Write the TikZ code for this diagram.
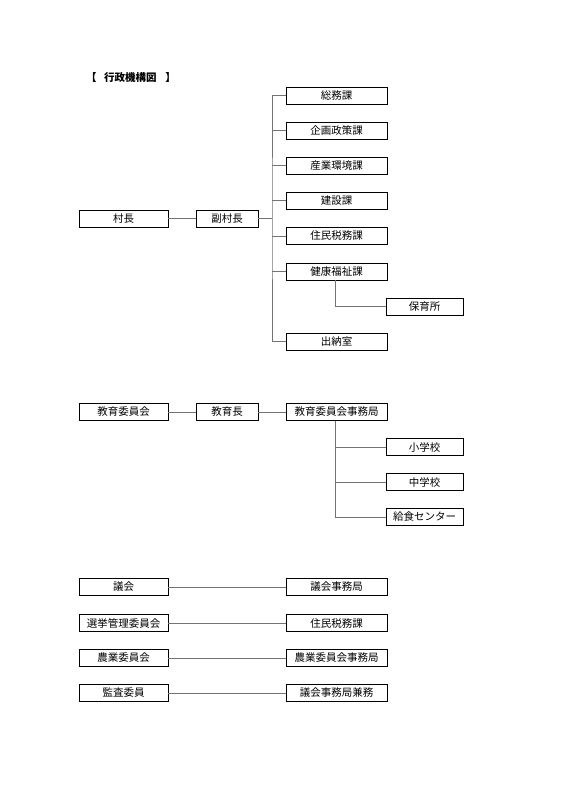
\documentclass[tikz,border=0pt]{standalone}
\usepackage{fontspec}
\setmainfont{Noto Sans CJK JP}
\begin{document}
\begin{tikzpicture}[x=1pt,y=-1pt,
  box/.style={draw=black, line width=0.9pt, minimum height=17pt, inner sep=0pt, font=\fontsize{10.5}{12}\selectfont, fill=white},
  wl/.style={box, minimum width=89pt},
  wm/.style={box, minimum width=62pt},
  wr/.style={box, minimum width=101pt},
  wf/.style={box, minimum width=77pt},
  conn/.style={draw=black!55, line width=0.8pt},
  title/.style={font=\fontsize{10.5}{12}\selectfont\bfseries, anchor=west, inner sep=0pt}]
\useasboundingbox (0,0) rectangle (566,800);
\fill[white] (0,0) rectangle (566,800);

\node[title] (ttl) at (86,78) {【\hspace{0.7em}行政機構図\hspace{0.85em}】};

% --- executive
\node[wl] (soncho) at (123.5,218.5) {村長};
\node[wm] (fuku) at (227,218.5) {副村長};
\node[wr] (somu) at (336.5,95.5) {総務課};
\node[wr] (kikaku) at (336.5,130.5) {企画政策課};
\node[wr] (sangyo) at (336.5,165.5) {産業環境課};
\node[wr] (kensetsu) at (336.5,200.5) {建設課};
\node[wr] (jumin) at (336.5,236) {住民税務課};
\node[wr] (kenko) at (336.5,271.5) {健康福祉課};
\node[wf] (hoiku) at (424.5,306.5) {保育所};
\node[wr] (suito) at (336.5,341.5) {出納室};
\coordinate (tr) at (272,218.5);

\draw[conn] (soncho.east) -- (fuku.west);
\draw[conn] (fuku.east) -- (tr);
\draw[conn] (somu.west) -| (tr) |- (suito.west);
\foreach \n in {kikaku,sangyo,kensetsu,jumin,kenko}
  \draw[conn] (\n.west -| tr) -- (\n.west);
\draw[conn] ([xshift=-1.5pt]kenko.south) |- (hoiku.west);

% --- education
\node[wl] (kyoiku) at (123.5,412) {教育委員会};
\node[wm] (kyoikucho) at (227,412) {教育長};
\node[wr] (jimu) at (336.5,412) {教育委員会事務局};
\node[wf] (sho) at (424.5,447) {小学校};
\node[wf] (chu) at (424.5,482) {中学校};
\node[wf] (kyushoku) at (424.5,517) {給食センター};
\coordinate (jt) at ([xshift=-1.5pt]jimu.south);

\draw[conn] (kyoiku.east) -- (kyoikucho.west);
\draw[conn] (kyoikucho.east) -- (jimu.west);
\draw[conn] (jt) |- (kyushoku.west);
\draw[conn] (jt |- sho.west) -- (sho.west);
\draw[conn] (jt |- chu.west) -- (chu.west);

% --- other committees
\node[wl] (gikai) at (123.5,587) {議会};
\node[wr] (gikaij) at (336.5,587) {議会事務局};
\node[wl] (senkyo) at (123.5,623) {選挙管理委員会};
\node[wr] (senkyoj) at (336.5,623) {住民税務課};
\node[wl] (nogyo) at (123.5,658) {農業委員会};
\node[wr] (nogyoj) at (336.5,658) {農業委員会事務局};
\node[wl] (kansa) at (123.5,693) {監査委員};
\node[wr] (kansaj) at (336.5,693) {議会事務局兼務};

\draw[conn] (gikai.east) -- (gikaij.west);
\draw[conn] (senkyo.east) -- (senkyoj.west);
\draw[conn] (nogyo.east) -- (nogyoj.west);
\draw[conn] (kansa.east) -- (kansaj.west);
\end{tikzpicture}
\end{document}
